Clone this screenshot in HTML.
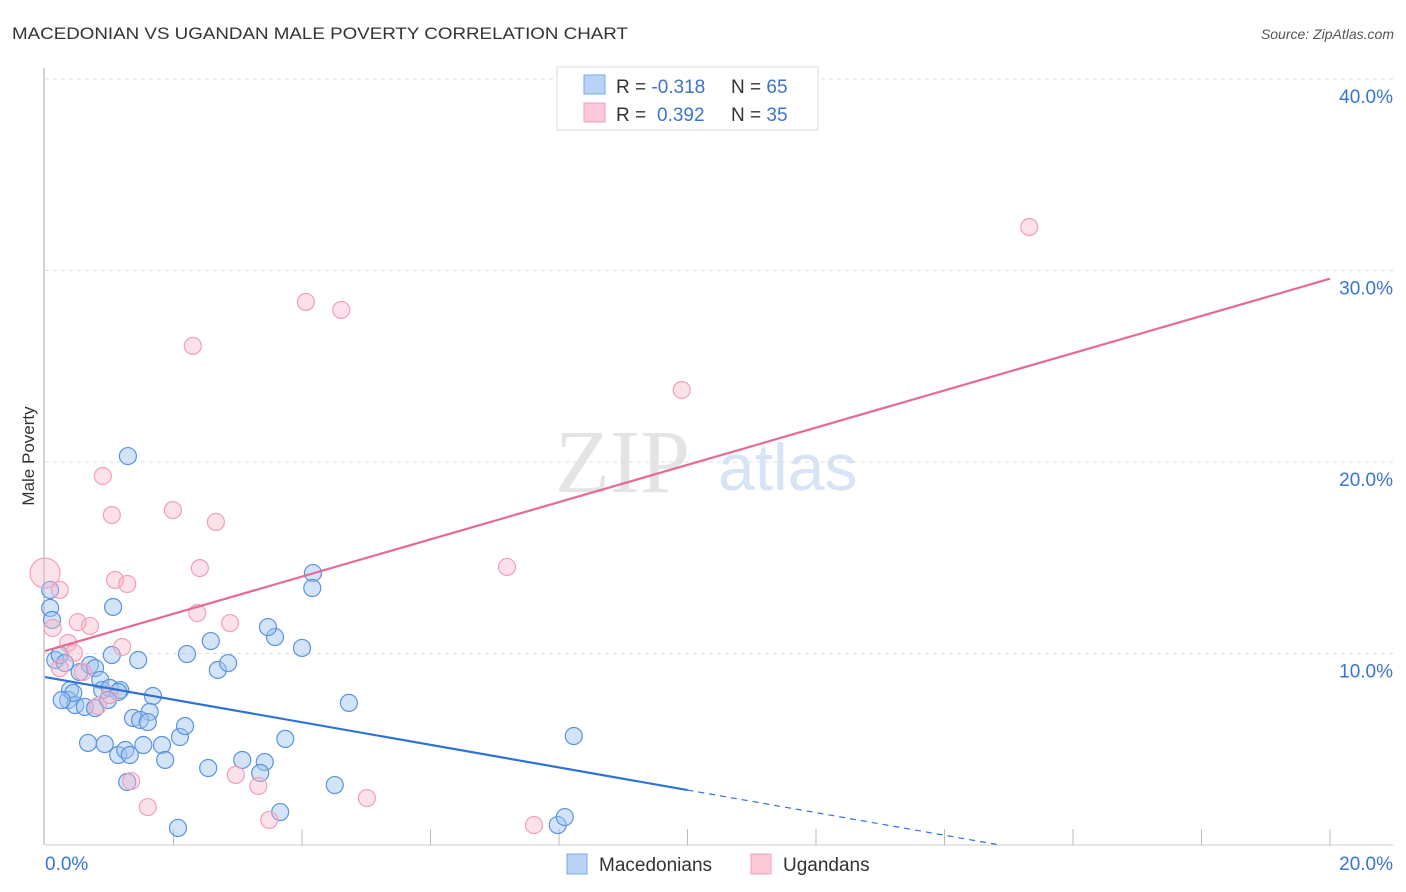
<!DOCTYPE html>
<html><head><meta charset="utf-8"><style>
body{margin:0;background:#fff;font-family:"Liberation Sans",sans-serif}
svg{display:block}
</style></head><body>
<svg id="chart" width="1406" height="892" viewBox="0 0 1406 892" xmlns="http://www.w3.org/2000/svg" font-family="Liberation Sans, sans-serif">
<text x="12" y="39" font-size="17" fill="#333" textLength="616" lengthAdjust="spacingAndGlyphs">MACEDONIAN VS UGANDAN MALE POVERTY CORRELATION CHART</text>
<text x="1394" y="39" font-size="14" fill="#555" font-style="italic" text-anchor="end">Source: ZipAtlas.com</text>
<g>
<text x="555" y="492" font-size="90" font-family="Liberation Serif, serif" fill="#e4e4e4">ZIP</text>
<text x="718" y="490" font-size="66" fill="#d6e4f5">atlas</text>
</g>
<g id="grid"></g>
<g id="axes"></g>
<g id="pts"></g>
<g id="lines"></g>
<text transform="translate(34,456) rotate(-90)" font-size="17" fill="#333" text-anchor="middle">Male Poverty</text>
<g>
<rect x="557" y="67" width="261" height="63" fill="#fff" stroke="#ddd"/>
<rect x="584" y="75" width="21" height="19" fill="#b8d3f7" stroke="#7aa8e8"/>
<rect x="584" y="103" width="21" height="19" fill="#fbc9d8" stroke="#f0a0b8"/>
<text x="616" y="93" font-size="19" fill="#333">R = <tspan fill="#3a74d0">-0.318</tspan><tspan x="731">N = </tspan><tspan fill="#3a74d0">65</tspan></text>
<text x="616" y="121" font-size="19" fill="#333">R = <tspan x="657" fill="#3a74d0">0.392</tspan><tspan x="731">N = </tspan><tspan fill="#3a74d0">35</tspan></text>
</g>
<g>
<rect x="567" y="854" width="20" height="20" fill="#b8d3f7" stroke="#7aa8e8"/>
<text x="599" y="871" font-size="19" fill="#333">Macedonians</text>
<rect x="751" y="854" width="20" height="20" fill="#fbc9d8" stroke="#f0a0b8"/>
<text x="783" y="871" font-size="19" fill="#333">Ugandans</text>
</g>
</svg>
<script>
const yTicks=[10,20,30,40];
const yTickLabels=["10.0%","20.0%","30.0%","40.0%"];
const xTickLabels=["0.0%","20.0%"];
const macX=[1.29,1.06,0.08,0.08,0.11,0.16,0.23,0.31,0.39,0.36,0.47,0.62,0.44,0.54,0.70,0.78,0.86,0.89,1.01,1.17,1.14,1.04,1.45,1.68,1.63,1.37,1.48,1.60,0.67,0.93,1.14,1.25,1.32,1.53,1.82,1.87,2.10,2.18,2.21,2.58,2.69,2.85,3.58,3.47,4.00,4.17,4.16,4.73,3.74,3.07,3.42,3.35,2.54,1.28,4.51,3.66,2.07,7.98,8.09,8.23,0.78,0.26,0.98];
const macY=[20.31,12.43,12.38,13.32,11.75,9.66,9.92,9.50,8.09,7.57,7.31,7.21,7.94,9.03,9.40,9.24,8.62,8.09,8.20,8.09,7.99,9.92,9.66,7.78,6.95,6.63,6.53,6.42,5.33,5.27,4.70,4.96,4.70,5.22,5.22,4.44,5.64,6.21,9.97,10.65,9.14,9.50,10.86,11.38,10.29,14.20,13.42,7.42,5.54,4.44,4.33,3.76,4.02,3.29,3.13,1.72,0.89,1.04,1.46,5.69,7.15,7.57,7.57];
const ugaX=[0.0,0.23,0.12,0.90,1.04,1.99,2.66,2.30,4.06,4.61,15.32,9.91,7.19,2.41,1.09,1.28,0.51,0.70,0.36,0.45,1.20,2.88,2.37,0.23,1.01,0.82,2.97,3.32,1.34,1.60,5.01,3.49,7.61,0.59];
const ugaY=[14.20,13.32,11.33,19.27,17.23,17.49,16.87,26.06,28.36,27.94,32.27,23.76,14.52,14.46,13.84,13.63,11.64,11.44,10.55,10.03,10.34,11.59,12.11,9.24,7.83,7.26,3.66,3.08,3.34,1.98,2.45,1.31,1.04,9.03];
const macLine=[8.77,-0.59]; // intercept, slope
const ugaLine=[10.13,0.972];
const NS="http://www.w3.org/2000/svg";
const X=v=>45+v*64.25, Y=v=>845-v*19.15;
function mk(tag,attrs,parent){const e=document.createElementNS(NS,tag);for(const k in attrs)e.setAttribute(k,attrs[k]);document.getElementById(parent).appendChild(e);return e;}
yTicks.forEach((t,i)=>{
 const g=mk('line',{x1:45,x2:1393,y1:Y(t),y2:Y(t),stroke:'#ddd','stroke-dasharray':'4,4'},'grid');
 
 
 const l=mk('text',{x:1393,y:Y(t)+24,'font-size':19,fill:'#3a74d0','text-anchor':'end'},'grid');
 l.textContent=yTickLabels[i];
 
 
});
const ax=mk('line',{x1:44,x2:44,y1:68,y2:845,stroke:'#aaa'},'axes');


const bx=mk('line',{x1:45,x2:1393,y1:845,y2:845,stroke:'#ccc'},'axes');


for(let i=1;i<=10;i++){
 const t=mk('line',{x1:X(i*2),x2:X(i*2),y1:829,y2:845,stroke:'#bbb'},'axes');
 
 
}
[[0,'start',45],[20,'end',1393]].forEach((d,i)=>{
 const t=mk('text',{x:d[2],y:870,'font-size':19,fill:'#3a74d0','text-anchor':d[1]},'axes');
 t.textContent=xTickLabels[i];
 
 
});
macX.forEach((x,i)=>{
 const c=mk('circle',{cx:X(x),cy:Y(macY[i]),r:8.5,fill:'rgba(160,196,240,0.45)',stroke:'#5b93de','stroke-width':1.2},'pts');
 
 
});
ugaX.forEach((x,i)=>{
 const c=mk('circle',{cx:X(x),cy:Y(ugaY[i]),r:i===0?15:8.5,fill:'rgba(248,180,200,0.4)',stroke:'#f0a0b8','stroke-width':1.2},'pts');
 
 
});
const mEnd=10, mZero=-macLine[0]/macLine[1];
let l1=mk('line',{x1:X(0),y1:Y(macLine[0]),x2:X(mEnd),y2:Y(macLine[0]+macLine[1]*mEnd),stroke:'#2f72d6','stroke-width':2.2},'lines');


let l2=mk('line',{x1:X(mEnd),y1:Y(macLine[0]+macLine[1]*mEnd),x2:X(mZero),y2:Y(0),stroke:'#2f72d6','stroke-width':1.2,'stroke-dasharray':'6,5'},'lines');


let l3=mk('line',{x1:X(0),y1:Y(ugaLine[0]),x2:X(20),y2:Y(ugaLine[0]+ugaLine[1]*20),stroke:'#e56a94','stroke-width':2.2},'lines');


</script>
</body></html>
